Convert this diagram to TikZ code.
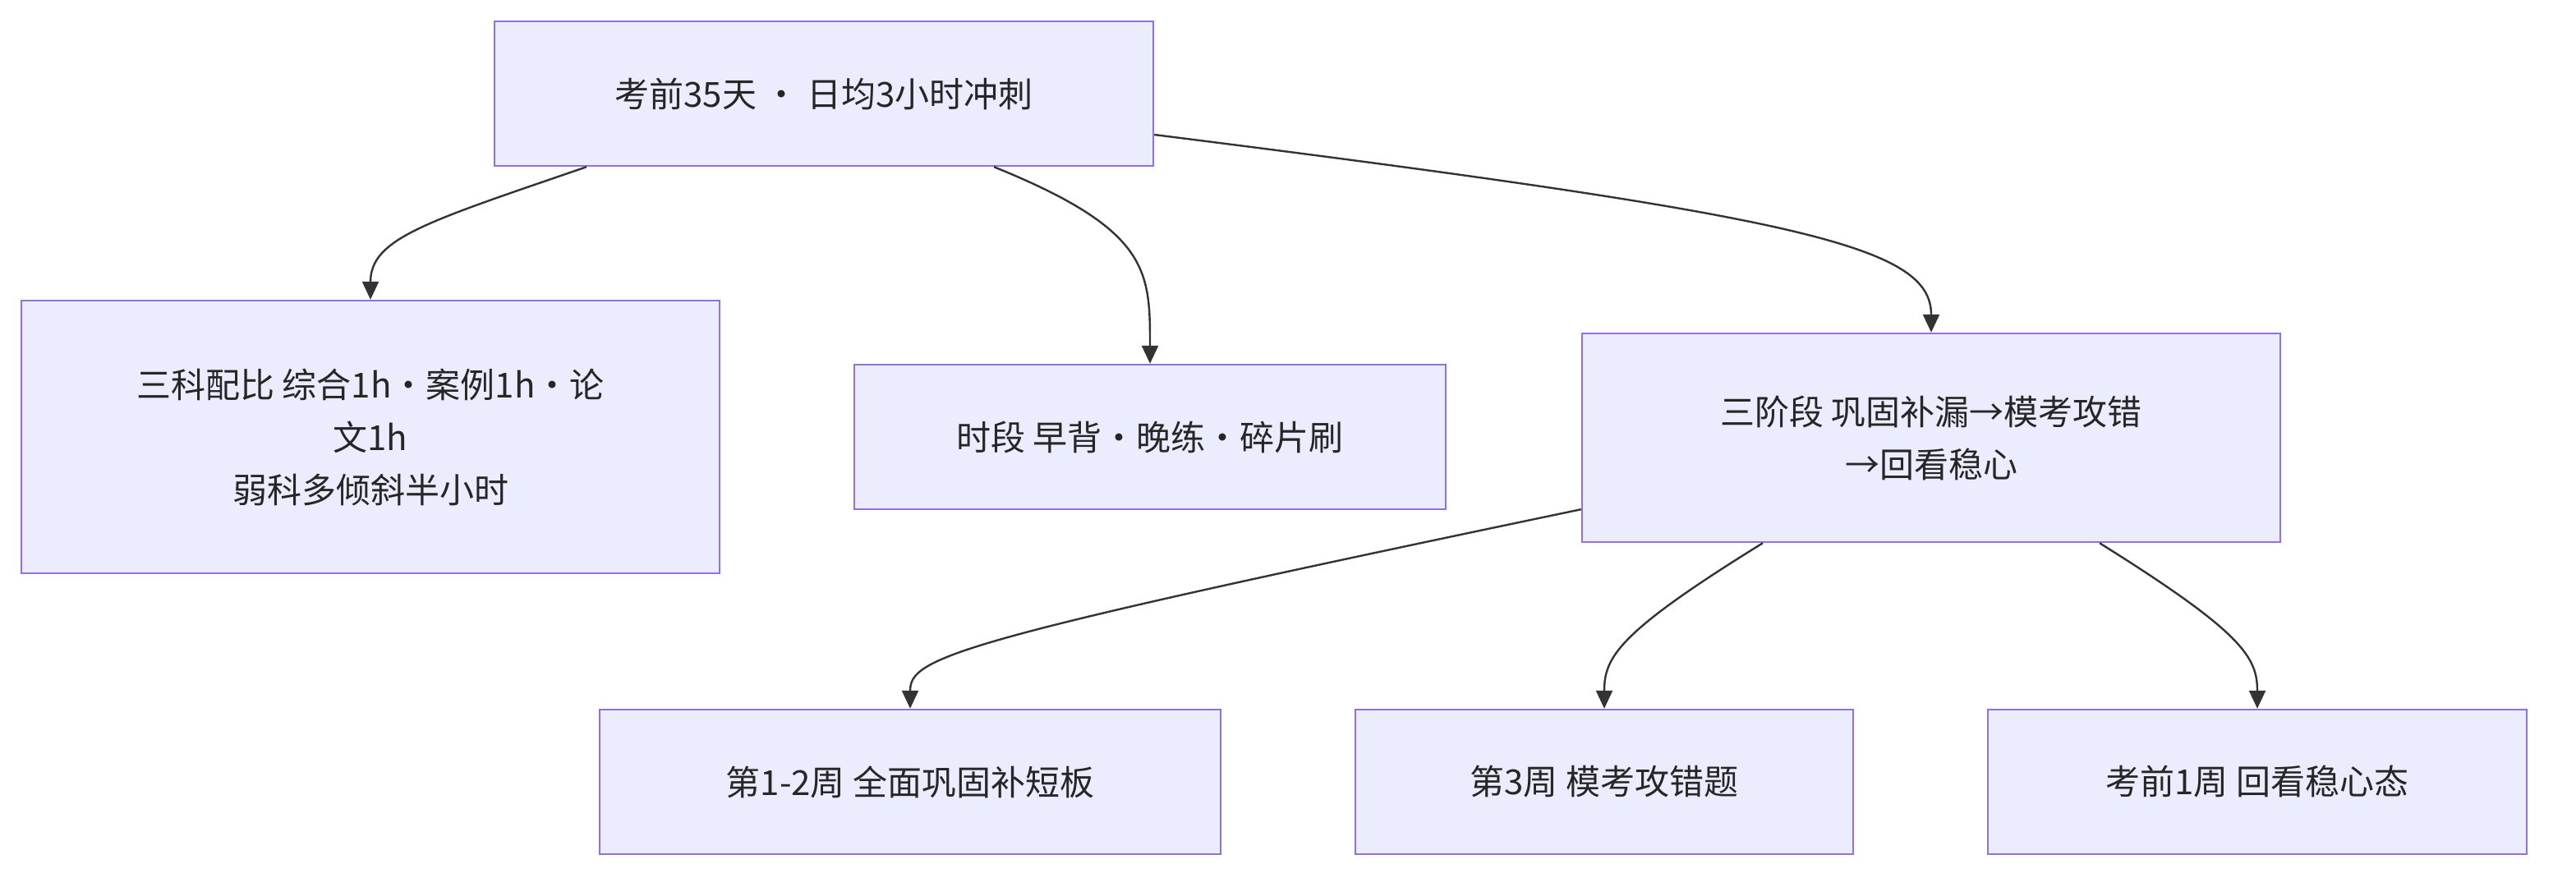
\documentclass[tikz,border=0pt]{standalone}
\usepackage{fontspec}
\setmainfont{Noto Sans CJK SC}
\usetikzlibrary{arrows.meta}
\definecolor{nfill}{HTML}{ECECFF}
\definecolor{nline}{HTML}{9370DB}
\definecolor{eline}{HTML}{333333}
\begin{document}
\begin{tikzpicture}[x=1pt,y=1pt,
  box/.style={draw=nline,fill=nfill,line width=1.2pt,inner sep=0pt,align=center,font=\fontsize{21}{32}\selectfont,text=black!85},
  edge/.style={draw=eline,line width=1.2pt,-{Triangle[length=11pt,width=10pt]}}]
\useasboundingbox (0,0) rectangle (1568,-540);
\fill[white] (0,0) rectangle (1568,-540);
\node[box,minimum width=401pt,minimum height=88pt] (top) at (501.5,-57) {考前35天 · 日均3小时冲刺};
\node[box,minimum width=425pt,minimum height=166pt] (left) at (225.5,-266) {三科配比 综合1h·案例1h·论\\文1h\\弱科多倾斜半小时};
\node[box,minimum width=360pt,minimum height=88pt] (mid) at (700,-266) {时段 早背·晚练·碎片刷};
\node[box,minimum width=425pt,minimum height=127pt] (right) at (1175.5,-266.5) {三阶段 巩固补漏→模考攻错\\→回看稳心};
\node[box,minimum width=378pt,minimum height=88pt] (b1) at (554,-476) {第1-2周 全面巩固补短板};
\node[box,minimum width=303pt,minimum height=88pt] (b2) at (976.5,-476) {第3周 模考攻错题};
\node[box,minimum width=328pt,minimum height=88pt] (b3) at (1374,-476) {考前1周 回看稳心态};
\draw[edge] ([xshift=-144.5pt]top.south) .. controls (260,-135) and (225.5,-145) .. (left.north);
\draw[edge] ([xshift=103.5pt]top.south) .. controls (700,-140) and (700,-165) .. (mid.north);
\draw[edge] ([yshift=-25pt]top.east) .. controls (1100,-132) and (1175.5,-150) .. (right.north);
\draw[edge] ([yshift=20.5pt]right.south west) .. controls (580,-390) and (554,-400) .. (b1.north);
\draw[edge] ([xshift=-102.5pt]right.south) .. controls (985,-385) and (976.5,-400) .. (b2.north);
\draw[edge] ([xshift=102.5pt]right.south) .. controls (1365,-385) and (1374,-400) .. (b3.north);
\end{tikzpicture}
\end{document}
